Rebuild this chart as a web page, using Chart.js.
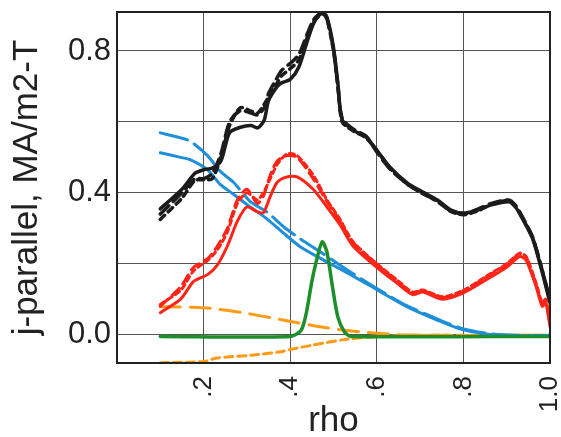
<!DOCTYPE html>
<html>
<head>
<meta charset="utf-8">
<script src="https://cdn.jsdelivr.net/npm/chart.js@4.4.1/dist/chart.umd.min.js"></script>
<style>
  html, body { margin: 0; padding: 0; background: #fff; }
  #wrap { width: 561px; height: 437px; }
</style>
</head>
<body>
<div id="wrap"><canvas id="c" width="561" height="437"></canvas></div>
<script>
// Parallel current density profiles vs normalized radius
const xTicks = [0, 0.2, 0.4, 0.6, 0.8, 1.0];
const xTickLabels = ['', '.2', '.4', '.6', '.8', '1.0'];
const yTicks = [0, 0.2, 0.4, 0.6, 0.8];
const yTickLabels = ['0.0', '', '0.4', '', '0.8'];

// total current (three reconstructions)
const blackRho = [0.10,0.15,0.18,0.20,0.22,0.24,0.26,0.285,0.31,0.325,0.34,0.35,0.37,0.38,0.40,0.42,0.44,0.455,0.475,0.485,0.50,0.51,0.52,0.545,0.575,0.60,0.63,0.67,0.705,0.74,0.77,0.80,0.835,0.865,0.905,0.92,0.935,0.96,0.98,1.0];
const blackSolid = [0.355,0.41,0.455,0.465,0.47,0.49,0.57,0.585,0.59,0.583,0.605,0.66,0.70,0.71,0.72,0.755,0.83,0.88,0.91,0.895,0.81,0.71,0.606,0.577,0.558,0.52,0.473,0.428,0.403,0.38,0.352,0.343,0.352,0.366,0.375,0.36,0.33,0.27,0.185,0.09];
const blackLong = [0.34,0.40,0.44,0.44,0.455,0.51,0.60,0.632,0.625,0.62,0.64,0.68,0.725,0.745,0.765,0.79,0.85,0.89,0.91,0.89,0.805,0.70,0.61,0.58,0.56,0.515,0.468,0.425,0.40,0.375,0.35,0.34,0.355,0.37,0.38,0.365,0.335,0.275,0.19,0.10];
const blackShort = [0.325,0.385,0.435,0.437,0.44,0.50,0.59,0.64,0.63,0.625,0.65,0.67,0.71,0.73,0.75,0.775,0.84,0.885,0.905,0.89,0.80,0.705,0.60,0.575,0.555,0.52,0.47,0.425,0.398,0.378,0.348,0.338,0.35,0.368,0.378,0.362,0.332,0.272,0.19,0.095];

// bootstrap current
const redRho = [0.10,0.147,0.177,0.21,0.232,0.255,0.278,0.30,0.324,0.338,0.354,0.37,0.393,0.416,0.453,0.485,0.515,0.545,0.60,0.646,0.683,0.706,0.752,0.80,0.853,0.90,0.93,0.945,0.968,0.982,0.99,1.0];
const redSolid = [0.062,0.10,0.15,0.17,0.197,0.25,0.32,0.36,0.347,0.344,0.39,0.43,0.445,0.445,0.41,0.36,0.31,0.25,0.19,0.146,0.113,0.12,0.10,0.118,0.155,0.19,0.22,0.21,0.135,0.08,0.09,0.023];
const redLong = [0.08,0.135,0.19,0.215,0.25,0.30,0.38,0.41,0.37,0.39,0.45,0.49,0.505,0.50,0.44,0.375,0.32,0.26,0.198,0.152,0.118,0.124,0.105,0.123,0.162,0.198,0.228,0.218,0.14,0.085,0.095,0.03];
const redShort = [0.085,0.125,0.18,0.21,0.24,0.29,0.37,0.40,0.38,0.40,0.44,0.48,0.51,0.505,0.45,0.38,0.325,0.262,0.20,0.155,0.12,0.126,0.107,0.125,0.165,0.20,0.23,0.22,0.145,0.09,0.10,0.035];

// ohmic current
const blueRho = [0.10,0.147,0.17,0.209,0.239,0.269,0.308,0.347,0.384,0.423,0.476,0.531,0.60,0.669,0.738,0.798,0.867,0.93,1.0];
const blueSolid = [0.513,0.50,0.493,0.465,0.423,0.396,0.36,0.326,0.287,0.248,0.211,0.175,0.127,0.079,0.042,0.014,0.0,-0.003,-0.003];
const blueDash = [0.569,0.555,0.545,0.505,0.46,0.43,0.375,0.345,0.305,0.27,0.228,0.183,0.13,0.082,0.045,0.017,0.002,-0.002,-0.002];

// driven current
const greenRho = [0.10,0.40,0.425,0.437,0.45,0.462,0.474,0.485,0.497,0.51,0.525,0.54,1.0];
const greenJ = [-0.005,-0.005,0.012,0.06,0.15,0.215,0.262,0.232,0.14,0.05,0.008,-0.005,-0.005];

// beam-driven components
const orangeLongRho = [0.10,0.20,0.29,0.38,0.48,0.56,0.65,0.75,1.0];
const orangeLong = [0.079,0.076,0.062,0.042,0.02,0.008,0.0,-0.002,-0.002];
const orangeShortRho = [0.10,0.20,0.23,0.31,0.38,0.40,0.45,0.53,0.61,0.70,1.0];
const orangeShort = [-0.079,-0.076,-0.066,-0.058,-0.048,-0.042,-0.03,-0.013,-0.005,-0.002,-0.002];

const pts = (xs, ys) => xs.map((x, i) => ({ x: x, y: ys[i] }));

const BLACK = '#1c1c1c', RED = '#ff2418', BLUE = '#1e8fd8', GREEN = '#1c8f2a', ORANGE = '#ff9a14';

function line(data, color, width, dash) {
  return { data: data, borderColor: color, borderWidth: width, borderDash: dash || [],
           pointRadius: 0, fill: false, tension: 0.25, borderCapStyle: 'round', borderJoinStyle: 'round' };
}

const datasets = [
  line(pts(greenRho, greenJ), GREEN, 3.5),
  line(pts(blackRho, blackSolid), BLACK, 3.5),
  line(pts(blackRho, blackLong), BLACK, 3.5, [12, 6]),
  line(pts(blackRho, blackShort), BLACK, 3.5, [6, 5]),
  line(pts(redRho, redSolid), RED, 3),
  line(pts(redRho, redLong), RED, 3, [10, 6]),
  line(pts(redRho, redShort), RED, 3, [5, 4]),
  line(pts(blueRho, blueSolid), BLUE, 3),
  line(pts(blueRho, blueDash), BLUE, 3, [28, 8]),
  line(pts(orangeLongRho, orangeLong), ORANGE, 3, [20, 10]),
  line(pts(orangeShortRho, orangeShort), ORANGE, 3, [8, 5])
];

// box around the plotting area
const frame = {
  id: 'frame',
  afterDatasetsDraw(chart) {
    const a = chart.chartArea, ctx = chart.ctx;
    ctx.save();
    ctx.strokeStyle = '#222';
    ctx.lineWidth = 2;
    ctx.strokeRect(a.left, a.top, a.right - a.left, a.bottom - a.top);
    ctx.restore();
  }
};

function noEdgePadding(s) {
  s.paddingLeft = 0; s.paddingRight = 0; s.paddingTop = 0; s.paddingBottom = 0;
}

new Chart(document.getElementById('c'), {
  type: 'line',
  data: { datasets: datasets },
  plugins: [frame],
  options: {
    responsive: false,
    devicePixelRatio: 1,
    animation: false,
    layout: { padding: { top: 12, right: 11, left: 0, bottom: 0 } },
    plugins: { legend: { display: false }, tooltip: { enabled: false } },
    scales: {
      x: {
        type: 'linear', min: 0, max: 1,
        afterBuildTicks: s => { s.ticks = xTicks.map(v => ({ value: v })); },
        afterFit: s => { s.height = 74; noEdgePadding(s); },
        ticks: {
          callback: (v, i) => xTickLabels[i],
          minRotation: 90, maxRotation: 90, padding: 13,
          color: '#222', font: { family: 'Liberation Sans', size: 26 }
        },
        grid: { color: '#555', lineWidth: 1, drawTicks: false },
        border: { color: '#222', width: 2 },
        title: { display: true, text: 'rho', color: '#222', padding: { top: 0, bottom: 0 },
                 font: { family: 'Liberation Sans', size: 35, lineHeight: 0.9 } }
      },
      y: {
        type: 'linear', min: -0.08, max: 0.91,
        afterBuildTicks: s => { s.ticks = yTicks.map(v => ({ value: v })); },
        afterFit: s => { s.width = 117; noEdgePadding(s); },
        ticks: {
          callback: (v, i) => yTickLabels[i],
          padding: 6, color: '#222', font: { family: 'Liberation Sans', size: 31 }
        },
        grid: { color: '#555', lineWidth: 1, drawTicks: false },
        border: { color: '#222', width: 2 },
        title: { display: true, text: 'j-parallel, MA/m2-T', color: '#222', padding: { top: 6, bottom: 0 },
                 font: { family: 'Liberation Sans', size: 35, lineHeight: 1.2 } }
      }
    }
  }
});
</script>
</body>
</html>
